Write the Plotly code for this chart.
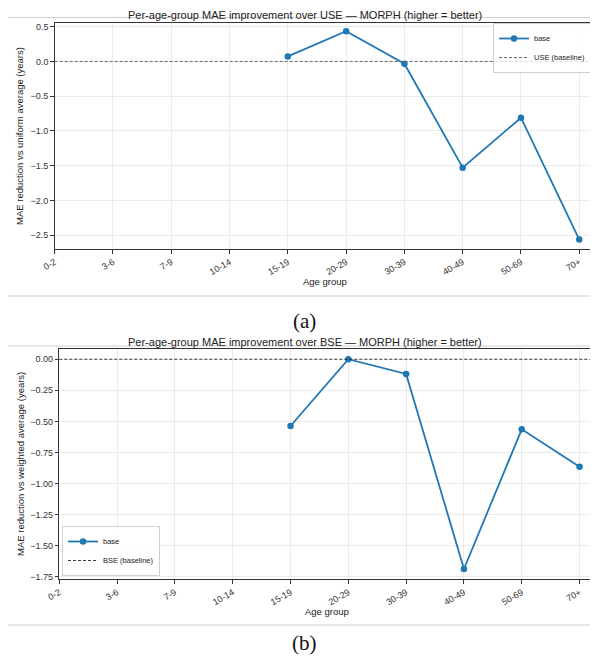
import plotly.graph_objects as go

age_groups = ["0-2", "3-6", "7-9", "10-14", "15-19", "20-29", "30-39", "40-49", "50-69", "70+"]
use_improvement = [None, None, None, None, 0.072, 0.435, -0.033, -1.527, -0.809, -2.562]
bse_improvement = [None, None, None, None, -0.537, 0.0, -0.118, -1.688, -0.564, -0.865]

# page body has an 8px margin, so the figure is placed at (8, 8)
OFF = 8
W, H = 598 - OFF, 662 - OFF
FONT = "Liberation Sans"
SERIF = "Liberation Serif"
BLUE = "#1f77b4"

def px(xp):
    return (xp - OFF) / W

def py(yp):
    return 1 - (yp - OFF) / H

fig = go.Figure()

fig.add_trace(go.Scatter(
    x=age_groups, y=use_improvement, mode="lines+markers", name="base",
    line=dict(color=BLUE, width=1.8), marker=dict(size=6.5, color=BLUE),
    xaxis="x", yaxis="y", legend="legend",
))
fig.add_trace(go.Scatter(
    x=age_groups, y=bse_improvement, mode="lines+markers", name="base",
    line=dict(color=BLUE, width=1.8), marker=dict(size=6.5, color=BLUE),
    xaxis="x2", yaxis="y2", legend="legend2",
))

# baselines
fig.add_shape(type="line", xref="x domain", yref="y", x0=0, x1=1, y0=0, y1=0,
              line=dict(color="#666666", width=1, dash="3px,2px"),
              showlegend=True, name="USE (baseline)", legend="legend")
fig.add_shape(type="line", xref="x2 domain", yref="y2", x0=0, x1=1, y0=0, y1=0,
              line=dict(color="#222222", width=0.9, dash="3px,2px"),
              showlegend=True, name="BSE (baseline)", legend="legend2")

# separators
for ysep in [17.5, 296, 346, 625]:
    fig.add_shape(type="line", xref="paper", yref="paper", x0=0, x1=1,
                  y0=py(ysep), y1=py(ysep), line=dict(color="#cfcfcf", width=1))

axis_common = dict(
    showline=True, mirror=True, linecolor="#333333", linewidth=1,
    ticks="outside", ticklen=3.5, tickcolor="#333333", tickwidth=1,
    showgrid=True, gridcolor="#ebebeb", gridwidth=1, zeroline=False,
    tickfont=dict(family=FONT, size=9, color="#333333"), automargin=False,
)

legend_common = dict(
    bgcolor="rgba(255,255,255,0.8)", bordercolor="#d0d0d0", borderwidth=1,
    font=dict(family=FONT, size=7.5, color="#222222"),
    tracegroupgap=0, itemwidth=30,
)

fig.update_layout(
    width=W, height=H, margin=dict(l=0, r=0, t=0, b=0, autoexpand=False),
    paper_bgcolor="white", plot_bgcolor="white",
    font=dict(family=FONT, color="#222222"),
    xaxis=dict(**axis_common, domain=[px(54.7), px(595)], anchor="y",
               type="category", categoryorder="array", categoryarray=age_groups,
               range=[0, 9.27], tickangle=-30),
    yaxis=dict(**axis_common, domain=[py(249), py(23)], anchor="x",
               range=[-2.697, 0.553], tickvals=[0.5, 0, -0.5, -1, -1.5, -2, -2.5],
               tickformat=".1f"),
    xaxis2=dict(**axis_common, domain=[px(59.3), px(594)], anchor="y2",
                type="category", categoryorder="array", categoryarray=age_groups,
                range=[0, 9.25], tickangle=-30),
    yaxis2=dict(**axis_common, domain=[py(579.3), py(349.3)], anchor="x2",
                range=[-1.771, 0.08],
                tickvals=[0, -0.25, -0.5, -0.75, -1, -1.25, -1.5, -1.75],
                tickformat=".2f"),
    legend=dict(**legend_common, x=px(591), y=py(23), xanchor="right", yanchor="top"),
    legend2=dict(**legend_common, x=px(62), y=py(576), xanchor="left", yanchor="bottom"),
    showlegend=True,
)

ann = []
ann.append(dict(text="Per-age-group MAE improvement over USE \u2014 MORPH (higher = better)",
                x=px(305), y=py(8), yanchor="top", font=dict(size=11)))
ann.append(dict(text="Per-age-group MAE improvement over BSE \u2014 MORPH (higher = better)",
                x=px(305), y=py(341.5), font=dict(size=11)))
ann.append(dict(text="MAE reduction vs uniform average (years)", x=px(20), y=py(136),
                textangle=-90, font=dict(size=9.5)))
ann.append(dict(text="MAE reduction vs weighted average (years)", x=px(20), y=py(464),
                textangle=-90, font=dict(size=9.5)))
ann.append(dict(text="Age group", x=px(325), y=py(281), font=dict(size=9.5)))
ann.append(dict(text="Age group", x=px(327), y=py(611), font=dict(size=9.5)))
ann.append(dict(text="(a)", x=px(304), y=py(321), font=dict(family=SERIF, size=21, color="#111111")))
ann.append(dict(text="(b)", x=px(304), y=py(643), font=dict(family=SERIF, size=21, color="#111111")))
for a in ann:
    a.setdefault("yanchor", "middle")
    a.update(xref="paper", yref="paper", showarrow=False, xanchor="center", borderpad=0)
    a["font"].setdefault("family", FONT)
    a["font"].setdefault("color", "#222222")
fig.update_layout(annotations=ann)

fig.write_html("out.html")
